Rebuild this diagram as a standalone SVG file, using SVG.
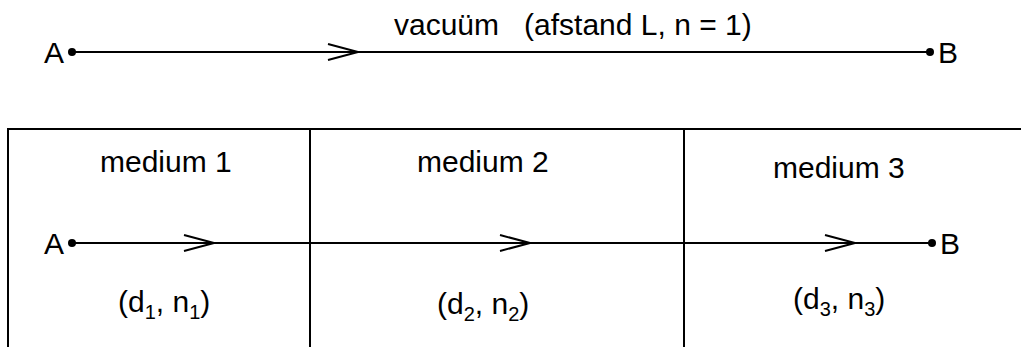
<svg xmlns="http://www.w3.org/2000/svg" width="1021" height="347" viewBox="0 0 1021 347">
<style>
text{font-family:"Liberation Sans",Arial,sans-serif;font-size:30px;fill:#000}
.sub{font-size:20px}
.ln{stroke:#000;stroke-width:2;fill:none}
.dot{fill:#000}
</style>
<defs>
<marker id="chev" markerWidth="34" markerHeight="20" refX="31" refY="10" orient="auto" markerUnits="userSpaceOnUse">
<path d="M1,2 L31,10 L1,18" fill="none" stroke="#000" stroke-width="2"/>
</marker>
</defs>
<rect width="1021" height="347" fill="#fff"/>
<g id="box">
<path class="ln" d="M8,360 V129 H1030"/>
<line class="ln" x1="310" y1="129" x2="310" y2="360"/>
<line class="ln" x1="684" y1="129" x2="684" y2="360"/>
</g>
<g id="connectors">
<line class="ln" x1="72" y1="52" x2="358" y2="52" marker-end="url(#chev)"/>
<line class="ln" x1="358" y1="52" x2="930" y2="52"/>
<line class="ln" x1="72" y1="243" x2="214" y2="243" marker-end="url(#chev)"/>
<line class="ln" x1="214" y1="243" x2="530" y2="243" marker-end="url(#chev)"/>
<line class="ln" x1="530" y1="243" x2="855" y2="243" marker-end="url(#chev)"/>
<line class="ln" x1="855" y1="243" x2="932" y2="243"/>
</g>
<g id="vacuum-label"><text x="394" y="35" xml:space="preserve">vacuüm   (afstand L, n = 1)</text></g>
<g id="A-top"><circle class="dot" cx="72" cy="52" r="4"/><text x="44" y="63">A</text></g>
<g id="B-top"><circle class="dot" cx="930" cy="52" r="4"/><text x="938" y="63">B</text></g>
<g id="A-bottom"><circle class="dot" cx="72" cy="243" r="4"/><text x="44" y="254">A</text></g>
<g id="B-bottom"><circle class="dot" cx="932" cy="243" r="4"/><text x="940" y="254">B</text></g>
<g id="medium1"><text x="100" y="172">medium 1</text><text x="118" y="312">(d<tspan class="sub" dy="7">1</tspan><tspan dy="-7">, n</tspan><tspan class="sub" dy="7">1</tspan><tspan dy="-7">)</tspan></text></g>
<g id="medium2"><text x="417" y="172">medium 2</text><text x="437" y="314">(d<tspan class="sub" dy="7">2</tspan><tspan dy="-7">, n</tspan><tspan class="sub" dy="7">2</tspan><tspan dy="-7">)</tspan></text></g>
<g id="medium3"><text x="773" y="178">medium 3</text><text x="793" y="309">(d<tspan class="sub" dy="7">3</tspan><tspan dy="-7">, n</tspan><tspan class="sub" dy="7">3</tspan><tspan dy="-7">)</tspan></text></g>
</svg>
